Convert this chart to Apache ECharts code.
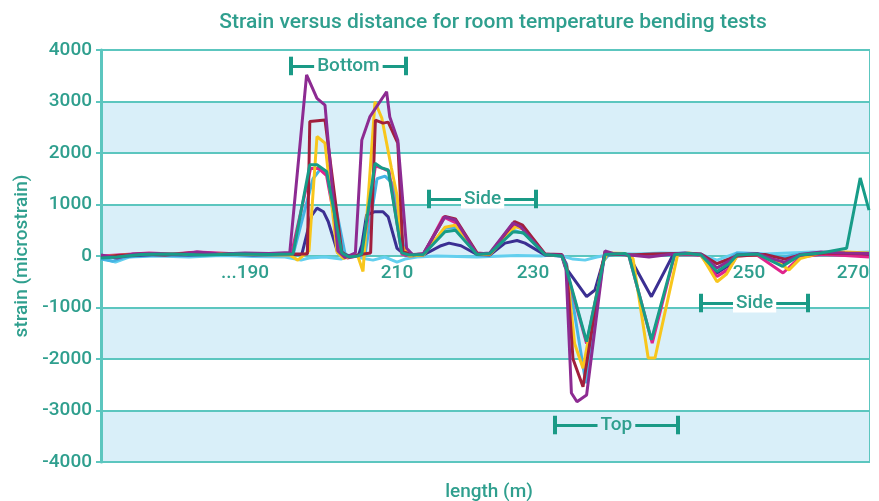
<!DOCTYPE html>
<html><head><meta charset="utf-8">
<script src="https://cdn.jsdelivr.net/npm/echarts@6/dist/echarts.min.js"></script>
<style>html,body{margin:0;padding:0;background:#fff}#c{width:879px;height:501px}</style>
</head><body><div id="c"></div>
<script>
// x values: position along the specimen (m, as laid out on the original axis); y: strain (microstrain)
const purple = [[173,20],[175,-40],[177,40],[180,50],[183,30],[185,80],[188,40],[191,60],[194,50],[196.6,70],
  [198.7,3515],[200,3060],[201,2930],[202.6,100],[203.5,-30],[204.8,60],
  [205.6,2250],[206.6,2700],[208.7,3190],[209.1,2700],[210.1,2250],[211.2,150],[212,20],
  [213.3,50],[216,760],[217.3,700],[220,40],[221.6,60],
  [224.5,640],[225.5,560],[228.5,30],[230.6,20],
  [231.1,-150],[231.8,-2660],[232.5,-2830],[233.7,-2700],[235.6,-350],[236,100],[237,50],
  [238.5,30],[241.5,-20],[244.5,40],[246,60],
  [248,30],[250,-230],[251.5,-100],[252.5,20],[255,50],[257,-60],[258.5,-120],[260.4,30],[263,80],[266,60],[269,50]];
const maroon = [[173,-30],[175,10],[178,40],[181,20],[184,60],[187,30],[190,50],[193,40],[198.8,40],
  [199.1,2610],[201,2640],[203.1,80],[204,-20],[205.8,40],
  [206.7,60],[207.3,2640],[208.25,2580],[208.9,2600],[210.1,2190],[210.75,80],[212,30],
  [213.3,40],[216,770],[217.3,720],[220,60],[221.6,40],
  [224.7,670],[225.7,600],[228.5,40],[230.6,30],
  [231.2,-200],[232,-2000],[233.25,-2540],[235.5,-300],[236,80],[237,40],
  [239,20],[242,40],[245,50],[248,40],[250,-150],[252.5,0],[256,30],[258.5,-60],[260.4,20],[264,60],[269,40]];
const yellow = [[173,-20],[176,20],[180,40],[184,30],[188,50],[192,30],[196.6,20],[197.6,-80],[199,100],
  [200,2320],[201,2190],[202.5,80],[203.3,-50],[204.5,20],[205.1,0],
  [205.75,-300],[207.25,2996],[208.1,2680],[209.3,1710],[210,1180],[210.6,210],[211.5,0],
  [213.3,20],[216,560],[217.3,600],[220,40],[221.6,30],
  [224.8,570],[226,520],[228.5,30],[230.6,10],
  [231.2,-200],[232.2,-1700],[233.25,-2180],[235.7,-150],[236.3,60],[238.5,50],
  [239.5,-50],[241.4,-1980],[242.25,-1980],[245.1,40],[246.5,60],
  [248,20],[250,-500],[251.2,-350],[252.5,0],[255,30],[257,-50],[259,-270],[260.4,-50],[263,60],[266,80],[269,60]];
const teal = [[173,-40],[175,-20],[178,30],[182,40],[186,20],[190,40],[194,30],[197,40],
  [199.1,1770],[200,1770],[201.2,1640],[203.1,60],[204,-20],[205.1,0],
  [205.6,40],[207.25,1800],[208.1,1710],[208.9,1670],[210.6,60],[211.5,20],
  [213.3,30],[216,470],[217.3,500],[220,30],[221.6,50],
  [224.5,470],[225.8,450],[228.5,30],[230.6,0],
  [231,-150],[233.7,-1664],[236,30],[238.5,50],
  [239,0],[241.8,-1630],[244.7,30],[246.5,50],
  [248,20],[250,-300],[251.5,-150],[252.5,20],[255,40],[258.2,-200],[260.4,20],[263,60],[266.2,150],[267.9,1515],[269,890]];
const navy = [[173,-10],[176,0],[180,30],[184,20],[188,40],[192,20],[198.1,30],
  [199.3,780],[200,930],[200.8,860],[201.4,670],[202.6,60],[204,0],[205.2,20],
  [205.6,210],[206.2,800],[207.25,860],[208.25,860],[208.9,760],[210,150],[211,20],
  [213.3,20],[215.5,200],[216.5,250],[218,200],[220,30],[221.6,20],
  [223.5,250],[225,300],[226,250],[228.5,20],[230.6,0],
  [231,-207],[233.7,-790],[234.75,-660],[236,20],[238.5,40],
  [239,0],[241.8,-790],[244.5,20],[246.5,50],
  [248,20],[250,-330],[251.5,-180],[252.5,10],[255,30],[258.5,-140],[260.4,10],[263,50],[266,40],[269,30]];
const pink = [[173,0],[176,30],[179,60],[182,40],[185,80],[189,50],[193,30],[196.8,40],
  [199.2,1700],[200.2,1700],[201.2,1560],[203,40],[203.8,-40],[205,0],
  [205.7,30],[207.3,1750],[208.2,1700],[209,1650],[210.6,40],[211.6,0],
  [213.3,30],[215.8,760],[217.3,650],[220,40],[221.6,50],
  [224.5,600],[225.8,520],[228.5,40],[230.6,10],
  [231,-180],[233.7,-1700],[236,40],[238.5,30],
  [239,0],[241.9,-1690],[244.7,20],[246.5,30],
  [248,10],[250,-400],[251.5,-250],[252.5,0],[255,20],[258.25,-330],[260.4,-20],[263,30],[266,10],[269,-20]];
const skyblue = [[173,-60],[174.5,-100],[176,-20],[180,20],[184,10],[188,30],[192,20],[197,20],
  [199.5,1500],[200.5,1700],[201.5,1600],[203.5,50],[204.2,-20],[205.2,0],
  [206,30],[207.5,1500],[208.5,1550],[209.5,1400],[211,30],[212,0],
  [213.3,20],[216,540],[217.3,560],[220,20],[221.6,30],
  [224.5,500],[226,430],[228.5,20],[230.6,0],
  [231.2,-150],[233.6,-2470],[235.8,-100],[236.5,30],[238.5,40],
  [240,20],[243,40],[246,60],
  [248,40],[250,-150],[251.5,-60],[252.5,60],[255,50],[258,-30],[260.4,40],[263,70],[266,40],[269,30]];
const cyan = [[173,-40],[174.8,-120],[176.5,-20],[180,0],[184,-20],[188,10],[192,-10],[196,-20],[198,-80],[199,-40],
  [201,-20],[203,-60],[204.5,20],[205.5,-40],[207,-80],[208.5,-20],[210,-120],[211,-60],[212.5,-20],[215,0],
  [220,-20],[225,10],[228,0],[230,30],[232,-60],[233.5,-80],[235,-20],[237,40],[240,40],[243,60],[246,50],
  [248,30],[250,-80],[252.5,60],[256,40],[259,60],[262,80],[266,60],[269,80]];

const yTicks = [-4000, 4000, 1000];           // min, max, step
const xRange = [173, 269];
const xTickLabels = {191: '...190', 210: '210', 227: '230', 254: '250', 267: '270'};
const annotationText = ['Bottom', 'Side', 'Top', 'Side'];
const annotationFrom = [196.75, 214, 229.75, 248];
const annotationTo = [211.1, 227.4, 245.1, 261.4];
const annotationAt = [3690, 1107, -3282, -913];

const TEXT = '#2f9f8e';
const GRID = '#5cc6bf';
const BANDS = ['#d9eff9', '#ffffff'];
const FONT = 'Roboto';

const seriesDefs = [
  ['cyan', cyan, '#63cfee'],
  ['skyblue', skyblue, '#45b4e4'],
  ['navy', navy, '#3b2f92'],
  ['pink', pink, '#e0248c'],
  ['yellow', yellow, '#f8c61c'],
  ['maroon', maroon, '#a11f3d'],
  ['purple', purple, '#8d2b92'],
  ['teal', teal, '#179c88']
];

const markData = [];
annotationText.forEach((t, i) => {
  const band = BANDS[Math.floor((annotationAt[i] - yTicks[0]) / yTicks[2]) % 2];
  const h = 180;
  markData.push([
    {coord: [annotationFrom[i], annotationAt[i]], lineStyle: {width: 3},
     label: {show: true, formatter: t, position: 'insideMiddle', color: TEXT, fontSize: 19, fontFamily: FONT, fontWeight: 500,
             backgroundColor: band, padding: [0, 3]}},
    {coord: [annotationTo[i], annotationAt[i]]}
  ]);
  markData.push([{coord: [annotationFrom[i], annotationAt[i] - h], lineStyle: {width: 4}}, {coord: [annotationFrom[i], annotationAt[i] + h]}]);
  markData.push([{coord: [annotationTo[i], annotationAt[i] - h], lineStyle: {width: 4}}, {coord: [annotationTo[i], annotationAt[i] + h]}]);
});

const series = seriesDefs.map(([name, data, color]) => ({
  name, type: 'line', data, symbol: 'none', showSymbol: false,
  lineStyle: {color, width: 3}, itemStyle: {color}, z: 3
}));
series.push({
  type: 'line', data: [], symbol: 'none', z: 5,
  markLine: {silent: true, symbol: ['none', 'none'], animation: false,
    lineStyle: {color: '#1a9a86', type: 'solid', width: 3}, label: {show: false}, data: markData}
});

const chart = echarts.init(document.getElementById('c'));
chart.setOption({
  animation: false,
  backgroundColor: '#ffffff',
  title: [
    {text: 'Strain versus distance for room temperature bending tests', left: 488, top: 7, textAlign: 'center',
     textStyle: {color: TEXT, fontSize: 21, fontWeight: 500, fontFamily: FONT}},
    {text: 'length (m)', left: 484, top: 478, textAlign: 'center',
     textStyle: {color: TEXT, fontSize: 19, fontWeight: 500, fontFamily: FONT}}
  ],
  grid: {left: 101, right: 10, top: 50, bottom: 39, show: true, borderColor: GRID, borderWidth: 2, backgroundColor: 'transparent'},
  xAxis: {
    type: 'value', min: xRange[0], max: xRange[1], interval: 1, offset: -206,
    axisLine: {show: false, onZero: false},
    axisTick: {show: false}, splitLine: {show: false},
    axisLabel: {color: TEXT, fontSize: 19, fontWeight: 500, fontFamily: FONT, margin: 8,
      formatter: v => xTickLabels[v] || ''}
  },
  yAxis: {
    type: 'value', min: yTicks[0], max: yTicks[1], interval: yTicks[2],
    name: 'strain (microstrain)', nameLocation: 'middle', nameGap: 66, nameRotate: 90,
    nameTextStyle: {color: TEXT, fontSize: 19, fontWeight: 500, fontFamily: FONT},
    axisLine: {show: true, onZero: false, lineStyle: {color: GRID, width: 3}},
    axisTick: {show: true, length: 5, lineStyle: {color: GRID, width: 2}},
    axisLabel: {color: TEXT, fontSize: 19, fontWeight: 500, fontFamily: FONT, margin: 9,
      formatter: v => String(v)},
    splitLine: {show: true, lineStyle: {color: GRID, width: 2}},
    splitArea: {show: true, areaStyle: {color: BANDS}}
  },
  series
});
</script></body></html>
